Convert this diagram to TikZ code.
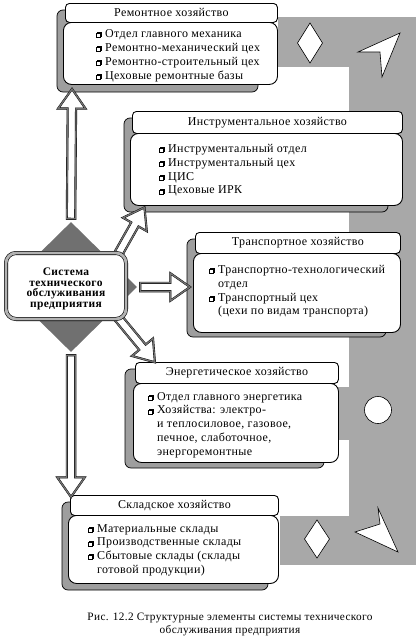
\documentclass[tikz,border=0pt]{standalone}
\usepackage{fontspec}
\setmainfont{Liberation Serif}[LetterSpace=3]
\usetikzlibrary{calc,shapes.geometric,shapes.arrows}

\definecolor{bandgray}{gray}{0.66}
\definecolor{shdgray}{gray}{0.62}
\definecolor{diagray}{gray}{0.44}
\definecolor{arrgray}{gray}{0.45}

\newcommand{\bul}{\makebox[9pt][l]{\tikz[baseline=0pt]{\draw[line width=0.5pt,fill=white] (1pt,1pt) rectangle (5pt,5pt); \draw[line width=0.5pt,fill=white] (0pt,0pt) rectangle (4pt,4pt);}}}

\begin{document}
\begin{tikzpicture}[x=1pt,y=-1pt,
  ttl/.style={draw, line width=0.9pt, rounded corners=4pt, fill=white, anchor=north west, inner sep=0pt, font=\fontsize{12}{14}\selectfont},
  body/.style={draw, line width=0.9pt, rounded corners=8pt, fill=white, anchor=north west, inner sep=0pt},
  shd/.style={draw=black, line width=0.7pt, fill=shdgray, rounded corners=6pt},
  lst/.style={anchor=north west, align=left, inner sep=0pt, font=\fontsize{12}{13.8}\selectfont},
  blk/.style={single arrow, draw=black, line width=0.4pt, double=arrgray, double distance=1.3pt, fill=white, inner sep=4pt, minimum width=0pt, single arrow head extend=9.5pt, single arrow tip angle=70},
  sign/.style={draw=black, line width=0.6pt, fill=white}]
  \useasboundingbox (0,0) rectangle (417,637);

  % gray frame on the right
  \fill[bandgray] (278,17) rectangle (416,67);
  \fill[bandgray] (349,17) rectangle (416,565);
  \fill[bandgray] (335,387) rectangle (416,440);
  \fill[bandgray] (280,516) rectangle (416,565);
  \draw[sign] (310,23) -- (322.5,43) -- (310,63) -- (297.5,43) -- cycle;
  \draw[sign] (358,52) -- (400,33) -- (382,77) -- (380,52) -- cycle;
  \draw[sign] (378,410) circle (13.5);
  \draw[sign] (317,520) -- (329.5,539) -- (317,558) -- (304.5,539) -- cycle;
  \draw[sign] (355,532) -- (380,524) -- (378,508) -- (398,552) -- cycle;

  % Ремонтное хозяйство
  \draw[shd] (57,10) rectangle (258,92);
  \node[body, minimum width=214pt, minimum height=62pt] (remb) at (63,22) {};
  \node[ttl, minimum width=212pt, minimum height=19pt] (remt) at (65,3) {Ремонтное хозяйство};
  \node[lst] (reml) at (96,29.5) {\bul Отдел главного механика\\ \bul Ремонтно-механический цех\\ \bul Ремонтно-строительный цех\\ \bul Цеховые ремонтные базы};

  % Инструментальное хозяйство
  \draw[shd] (124,118) rectangle (388,212);
  \node[body, minimum width=272pt, minimum height=72pt] (insb) at (130,133) {};
  \node[ttl, minimum width=270pt, minimum height=22pt] (inst) at (132,111) {Инструментальное хозяйство};
  \node[lst] (insl) at (159,144) {\bul Инструментальный отдел\\ \bul Инструментальный цех\\ \bul ЦИС\\ \bul Цеховые ИРК};

  % Транспортное хозяйство
  \draw[shd] (187,239) rectangle (386,337);
  \node[body, minimum width=207pt, minimum height=79pt] (trab) at (193,253) {};
  \node[ttl, minimum width=205pt, minimum height=21pt] (trat) at (195,232) {Транспортное хозяйство};
  \node[lst] (tral) at (209,265) {\bul Транспортно-технологический\\ \hspace*{9pt}отдел\\ \bul Транспортный цех\\ \hspace*{9pt}(цехи по видам транспорта)};

  % Энергетическое хозяйство
  \draw[shd] (125,369) rectangle (324,468);
  \node[body, minimum width=205pt, minimum height=79pt] (enerb) at (133,383) {};
  \node[ttl, minimum width=203pt, minimum height=21pt] (enert) at (135,362) {Энергетическое хозяйство};
  \node[lst] (enerl) at (148,392) {\bul Отдел главного энергетика\\ \bul Хозяйства: электро-\\ \hspace*{9pt}и теплосиловое, газовое,\\ \hspace*{9pt}печное, слаботочное,\\ \hspace*{9pt}энергоремонтные};

  % Складское хозяйство
  \draw[shd] (62,502) rectangle (268,590);
  \node[body, minimum width=210pt, minimum height=68pt] (sklb) at (68,515) {};
  \node[ttl, minimum width=208pt, minimum height=20pt] (sklt) at (70,495) {Складское хозяйство};
  \node[lst] (skll) at (88,524) {\bul Материальные склады\\ \bul Производственные склады\\ \bul Сбытовые склады (склады\\ \hspace*{9pt}готовой продукции)};

  % central node with arrows
  \node[diamond, fill=diagray, minimum width=132pt, minimum height=130pt, inner sep=0pt] (dia) at (71,287) {};
  \coordinate (upt) at (72,92);
  \coordinate (dnt) at (71,494);
  \coordinate (rtt) at (187,287);
  \coordinate (urs) at (112,265);
  \coordinate (urt) at (143,210);
  \coordinate (drs) at (110,308);
  \coordinate (drt) at (153,360);
  \path let \p1=($(upt)-(dia.north)$) in node[blk, minimum height={veclen(\x1,\y1)}, rotate={atan2(\y1,\x1)}] (aup) at ($(dia.north)!0.5!(upt)$) {};
  \path let \p1=($(dnt)-(dia.south)$) in node[blk, minimum height={veclen(\x1,\y1)}, rotate={atan2(\y1,\x1)}] (adn) at ($(dia.south)!0.5!(dnt)$) {};
  \path let \p1=($(rtt)-(dia.east)$) in node[blk, minimum height={veclen(\x1,\y1)}, rotate={atan2(\y1,\x1)}] (art) at ($(dia.east)!0.5!(rtt)$) {};
  \path let \p1=($(urt)-(urs)$) in node[blk, minimum height={veclen(\x1,\y1)}, rotate={atan2(\y1,\x1)}] (aur) at ($(urs)!0.5!(urt)$) {};
  \path let \p1=($(drt)-(drs)$) in node[blk, minimum height={veclen(\x1,\y1)}, rotate={atan2(\y1,\x1)}] (adr) at ($(drs)!0.5!(drt)$) {};
  \node[draw=black, line width=0.6pt, double=gray!60, double distance=2.8pt, fill=white, rounded corners=10pt, minimum width=120pt, minimum height=66pt, inner sep=0pt] (sys) at (66,286) {};
  \node[align=center, inner sep=0pt, font=\bfseries\fontsize{11.5}{10.8}\selectfont] (syst) at (66,289) {Система\\технического\\обслуживания\\предприятия};

  % caption
  \node[align=center, inner sep=0pt, font=\fontsize{11.3}{13}\selectfont] (capt) at (230,624) {Рис. 12.2 Структурные элементы системы технического\\обслуживания предприятия};
\end{tikzpicture}
\end{document}
